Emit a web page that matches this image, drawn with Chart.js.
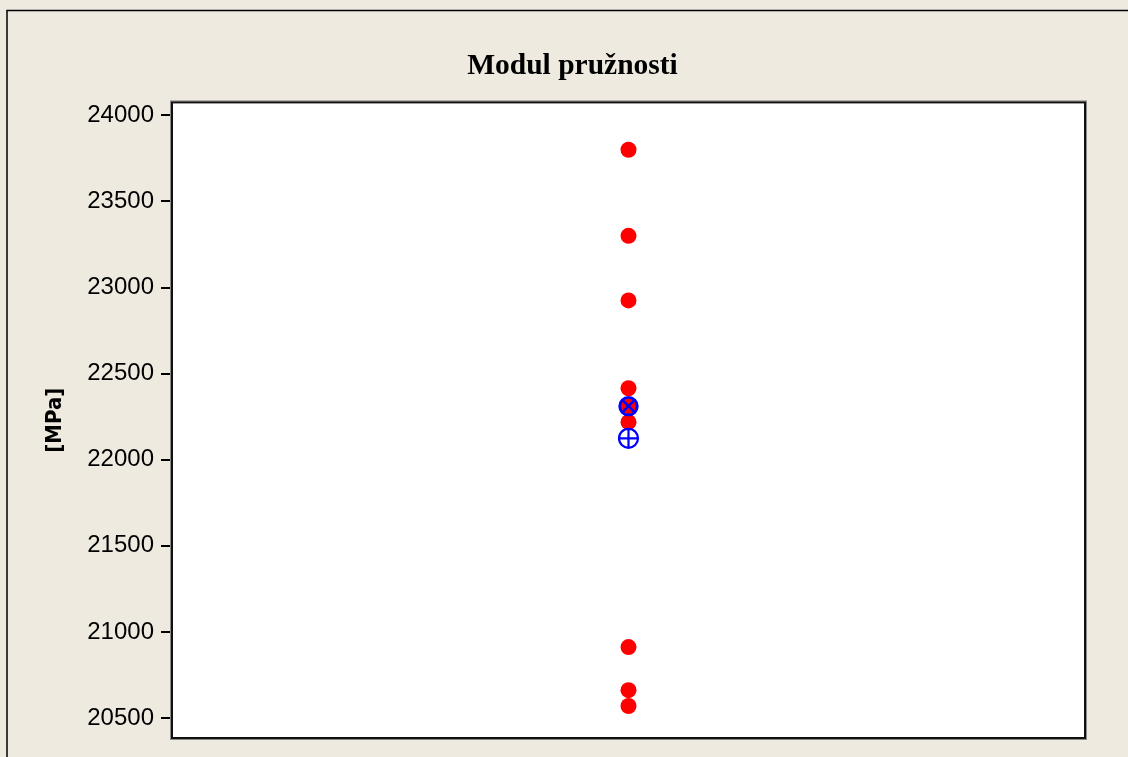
<!DOCTYPE html>
<html>
<head>
<meta charset="utf-8">
<title>Modul pružnosti</title>
<script src="https://cdn.jsdelivr.net/npm/chart.js@4.4.1/dist/chart.umd.min.js"></script>
<style>
  html, body { margin: 0; padding: 0; background: #EEEAE0; overflow: hidden; }
  #wrap { position: relative; width: 1128px; height: 757px; }
</style>
</head>
<body>
<div id="wrap"><canvas id="c" width="1128" height="757"></canvas></div>
<script>
// Measured modulus of elasticity values [MPa]
const sampleValues = [23800, 23300, 22925, 22415, 22311, 22218, 20912, 20662, 20570];
// Summary markers
const medianValue = 22311;
const meanValue = 22124;
// Axis
const yTicks = [20500, 21000, 21500, 22000, 22500, 23000, 23500, 24000];
const yMin = 20384;
const yMax = 24075;

const BG = '#EEEAE0';
const tickFont = { family: "'Liberation Sans', Arial, sans-serif", size: 24 };

// Page backdrop with frame, and the box around the plot area
const framePlugin = {
  id: 'frame',
  beforeDraw(chart) {
    const ctx = chart.ctx;
    ctx.save();
    ctx.fillStyle = BG;
    ctx.fillRect(0, 0, chart.width, chart.height);
    ctx.strokeStyle = '#000';
    ctx.lineWidth = 1.5;
    ctx.beginPath();
    ctx.moveTo(7, chart.height + 5);
    ctx.lineTo(7, 10.5);
    ctx.lineTo(chart.width + 5, 10.5);
    ctx.stroke();
    const a = chart.chartArea;
    ctx.fillStyle = '#fff';
    ctx.fillRect(a.left, a.top, a.right - a.left, a.bottom - a.top);
    ctx.restore();
  },
  afterDatasetsDraw(chart) {
    const ctx = chart.ctx;
    const a = chart.chartArea;
    ctx.save();
    ctx.strokeStyle = '#8a8a8a';
    ctx.lineWidth = 1;
    ctx.strokeRect(a.left - 1.5, a.top - 1.5, a.right - a.left + 3, a.bottom - a.top + 3);
    ctx.strokeStyle = '#111';
    ctx.lineWidth = 2;
    ctx.strokeRect(a.left, a.top, a.right - a.left, a.bottom - a.top);
    ctx.restore();
  }
};

new Chart(document.getElementById('c'), {
  type: 'scatter',
  data: {
    datasets: [
      {
        label: 'Hodnoty',
        data: sampleValues.map(v => ({ x: 1, y: v })),
        pointStyle: 'circle',
        pointRadius: 8,
        backgroundColor: '#FF0000',
        borderWidth: 0,
        order: 3
      },
      {
        label: 'Medián',
        data: [{ x: 1, y: medianValue }],
        pointStyle: 'circle',
        pointRadius: 8.8,
        backgroundColor: 'rgba(0,0,0,0)',
        borderColor: '#0000FF',
        borderWidth: 2.8,
        order: 2
      },
      {
        label: 'Medián X',
        data: [{ x: 1, y: medianValue }],
        pointStyle: 'crossRot',
        pointRadius: 8.8,
        borderColor: '#0000FF',
        borderWidth: 2.6,
        order: 2
      },
      {
        label: 'Průměr',
        data: [{ x: 1, y: meanValue }],
        pointStyle: 'circle',
        pointRadius: 9.5,
        backgroundColor: 'rgba(0,0,0,0)',
        borderColor: '#0000FF',
        borderWidth: 2.2,
        order: 1
      },
      {
        label: 'Průměr +',
        data: [{ x: 1, y: meanValue }],
        pointStyle: 'cross',
        pointRadius: 9.5,
        borderColor: '#0000FF',
        borderWidth: 2.2,
        order: 1
      }
    ]
  },
  options: {
    responsive: false,
    animation: false,
    devicePixelRatio: 1,
    layout: { padding: { left: 17, right: 0, top: 0, bottom: 19 } },
    plugins: {
      legend: { display: false },
      tooltip: { enabled: false },
      title: {
        display: true,
        text: 'Modul pružnosti',
        color: '#000',
        font: { family: "'Liberation Serif', 'Times New Roman', serif", size: 29.5, weight: 'bold' },
        padding: { top: 48.5, bottom: 18.5 }
      }
    },
    scales: {
      x: {
        type: 'linear',
        min: 0,
        max: 2,
        display: false
      },
      y: {
        type: 'linear',
        position: 'left',
        min: yMin,
        max: yMax,
        afterBuildTicks: s => { s.ticks = yTicks.map(v => ({ value: v })); },
        afterFit: s => { s.width = 155; s.paddingTop = 0; s.paddingBottom = 0; },
        ticks: {
          color: '#000',
          font: tickFont,
          padding: 7,
          callback: v => String(v)
        },
        grid: {
          drawOnChartArea: false,
          drawTicks: true,
          tickLength: 11,
          color: '#000',
          lineWidth: 2
        },
        border: { display: false },
        title: {
          display: true,
          text: '[MPa]',
          color: '#000',
          font: { family: "'DejaVu Sans Condensed', 'DejaVu Sans', sans-serif", size: 22, weight: 'bold' },
          padding: { top: 25, bottom: 0 }
        }
      },
      yRight: {
        type: 'linear',
        position: 'right',
        display: true,
        afterFit: s => { s.width = 43; s.paddingTop = 0; s.paddingBottom = 0; },
        ticks: { display: false },
        grid: { display: false, drawTicks: false },
        border: { display: false },
        title: { display: false }
      }
    }
  },
  plugins: [framePlugin]
});
</script>
</body>
</html>
